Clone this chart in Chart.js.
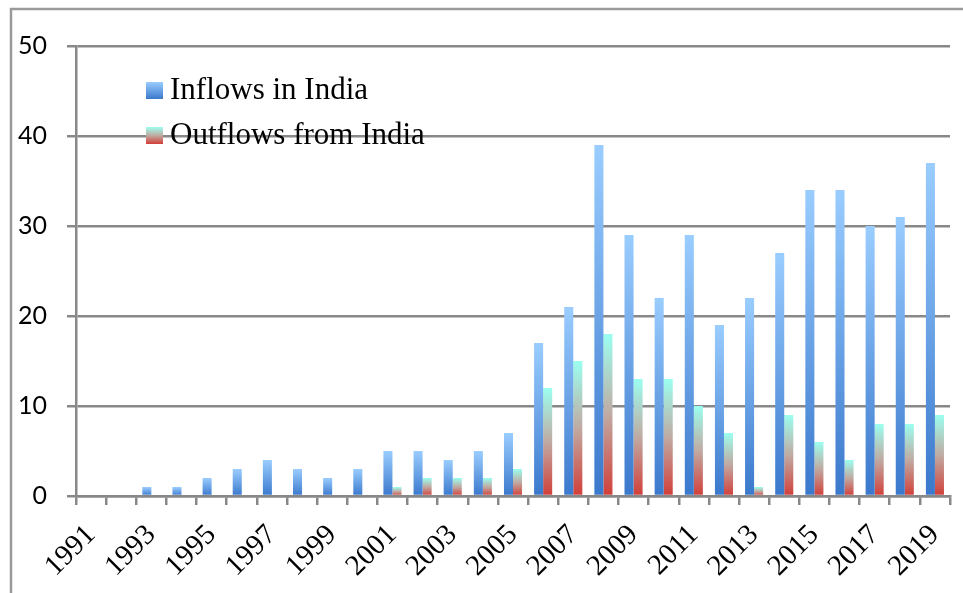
<!DOCTYPE html>
<html>
<head>
<meta charset="utf-8">
<script src="https://cdn.jsdelivr.net/npm/chart.js@4"></script>
<style>
  html, body { margin: 0; padding: 0; background: #fff; }
  #wrap { width: 963px; height: 593px; }
</style>
</head>
<body>
<div id="wrap"><canvas id="fdiChart" width="963" height="593"></canvas></div>
<script>
// Data
const years = ['1991', '1992', '1993', '1994', '1995', '1996', '1997', '1998', '1999', '2000',
  '2001', '2002', '2003', '2004', '2005', '2006', '2007', '2008', '2009', '2010',
  '2011', '2012', '2013', '2014', '2015', '2016', '2017', '2018', '2019'];
const inflows = [0, 0, 1, 1, 2, 3, 4, 3, 2, 3,
  5, 5, 4, 5, 7, 17, 21, 39, 29, 22,
  29, 19, 22, 27, 34, 34, 30, 31, 37];
const outflows = [0, 0, 0, 0, 0, 0, 0, 0, 0, 0,
  1, 2, 2, 2, 3, 12, 15, 18, 13, 13,
  10, 7, 1, 9, 6, 4, 8, 8, 9];
const seriesNames = ['Inflows in India', 'Outflows from India'];
const yMin = 0, yMax = 50, yStep = 10;

const gridGray = '#888888';

// per-bar vertical gradients
const inflowStops = [[0, '#9acdff'], [1, '#3a78cc']];
const outflowStops = [[0, '#9bfff0'], [0.5, '#c0aaa2'], [1, '#d23e38']];

function barGradient(stops) {
  return function (context) {
    const chart = context.chart;
    const yScale = chart.scales.y;
    if (!yScale || context.raw == null) return stops[stops.length - 1][1];
    const top = yScale.getPixelForValue(context.raw);
    const base = yScale.getPixelForValue(0);
    if (!isFinite(top) || !isFinite(base) || base - top < 1) return stops[stops.length - 1][1];
    const g = chart.ctx.createLinearGradient(0, top, 0, base);
    stops.forEach(s => g.addColorStop(s[0], s[1]));
    return g;
  };
}

// outer frame (left + top edges only)
const framePlugin = {
  id: 'frame',
  beforeDraw(chart) {
    const ctx = chart.ctx;
    ctx.save();
    ctx.strokeStyle = '#9a9a9a';
    ctx.lineWidth = 2.5;
    ctx.beginPath();
    ctx.moveTo(11, 593);
    ctx.lineTo(11, 9);
    ctx.lineTo(963, 9);
    ctx.stroke();
    ctx.restore();
  }
};

// legend drawn inside the plot area
const insideLegend = {
  id: 'insideLegend',
  afterDatasetsDraw(chart) {
    const ctx = chart.ctx;
    const stopsList = [inflowStops, outflowStops];
    ctx.save();
    chart.data.datasets.forEach((ds, i) => {
      const boxY = 82 + i * 45;
      const g = ctx.createLinearGradient(0, boxY, 0, boxY + 17);
      stopsList[i].forEach(s => g.addColorStop(s[0], s[1]));
      ctx.fillStyle = g;
      ctx.fillRect(146, boxY, 17, 17);
      ctx.fillStyle = '#000';
      ctx.font = '31px "Liberation Serif", serif';
      ctx.textBaseline = 'alphabetic';
      ctx.textAlign = 'left';
      ctx.fillText(ds.label, 170, boxY + 17);
    });
    ctx.restore();
  }
};

const ctx = document.getElementById('fdiChart').getContext('2d');
new Chart(ctx, {
  type: 'bar',
  data: {
    labels: years,
    datasets: [
      {
        label: seriesNames[0],
        data: inflows,
        backgroundColor: barGradient(inflowStops),
        categoryPercentage: 0.6,
        barPercentage: 1.0
      },
      {
        label: seriesNames[1],
        data: outflows,
        backgroundColor: barGradient(outflowStops),
        categoryPercentage: 0.6,
        barPercentage: 1.0
      }
    ]
  },
  options: {
    responsive: false,
    animation: false,
    layout: { padding: { left: 14, top: 46, right: 13, bottom: 0 } },
    plugins: {
      legend: { display: false },
      tooltip: { enabled: false }
    },
    scales: {
      x: {
        offset: true,
        grid: {
          offset: true,
          drawOnChartArea: false,
          color: gridGray,
          lineWidth: 2.5,
          tickLength: 9
        },
        border: { color: gridGray, width: 2.5 },
        ticks: {
          autoSkip: false,
          minRotation: 45,
          maxRotation: 45,
          padding: 13,
          color: '#000',
          font: { family: '"Liberation Serif", serif', size: 29 },
          callback: function (value, index) {
            return index % 2 === 0 ? this.getLabelForValue(value) : '';
          }
        },
        afterFit(scale) {
          scale.height = 97;
          scale.paddingLeft = 0;
          scale.paddingRight = 0;
        }
      },
      y: {
        min: yMin,
        max: yMax,
        grid: {
          color: gridGray,
          lineWidth: 2.5,
          tickLength: 9
        },
        border: { color: gridGray, width: 2.5 },
        ticks: {
          stepSize: yStep,
          padding: 20,
          color: '#000',
          font: { family: 'Lato, "Liberation Sans", sans-serif', size: 25 }
        },
        afterFit(scale) { scale.width = 62; }
      }
    }
  },
  plugins: [framePlugin, insideLegend]
});
</script>
</body>
</html>
